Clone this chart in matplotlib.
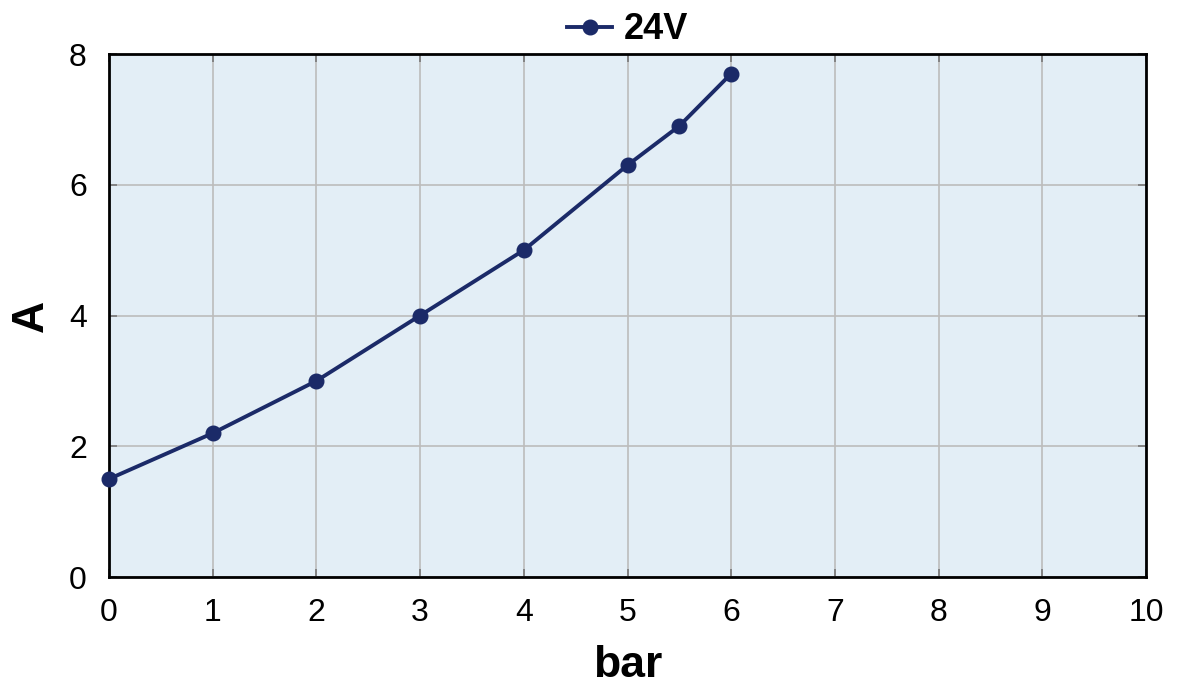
import matplotlib
matplotlib.use("Agg")
from matplotlib import pyplot as plt

plt.rcParams['font.family'] = ['Liberation Sans', 'DejaVu Sans']

# pressure (bar) vs current (A) at 24V
pressure = [0, 1, 2, 3, 4, 5, 5.5, 6]
current = [1.5, 2.2, 3.0, 4.0, 5.0, 6.3, 6.9, 7.7]
x_ticks = [0, 1, 2, 3, 4, 5, 6, 7, 8, 9, 10]
y_ticks = [0, 2, 4, 6, 8]

line_col = '#1b2a68'

fig = plt.figure(figsize=(11.77, 6.88), dpi=100)
ax = fig.add_axes([0.0926, 0.1613, 0.8811, 0.7602])
ax.set_facecolor('#e3eef6')

ax.plot(pressure, current, color=line_col, lw=2.8, marker='o', ms=10.5,
        label='24V', clip_on=False, zorder=3)

ax.set_xlim(0, 10)
ax.set_ylim(0, 8)
ax.set_xticks(x_ticks)
ax.set_yticks(y_ticks)
ax.grid(True, color='#bcbcbc', lw=1.2)
ax.set_axisbelow(True)
ax.tick_params(direction='in', length=6, width=1.2, color='#777777',
               labelsize=23, top=True, right=True)
ax.tick_params(axis='x', pad=15)
ax.tick_params(axis='y', pad=16)
for s in ax.spines.values():
    s.set_linewidth(2)
    s.set_color('black')

ax.set_xlabel('bar', fontsize=32, fontweight='bold', labelpad=12)
ax.set_ylabel('A', fontsize=32, fontweight='bold', labelpad=12)

leg = ax.legend(loc='lower center', bbox_to_anchor=(0.5, 0.985), frameon=False,
                prop={'size': 26, 'weight': 'bold'}, handlelength=1.25,
                handletextpad=0.3, borderaxespad=0)

fig.savefig('out.png', dpi=100)
